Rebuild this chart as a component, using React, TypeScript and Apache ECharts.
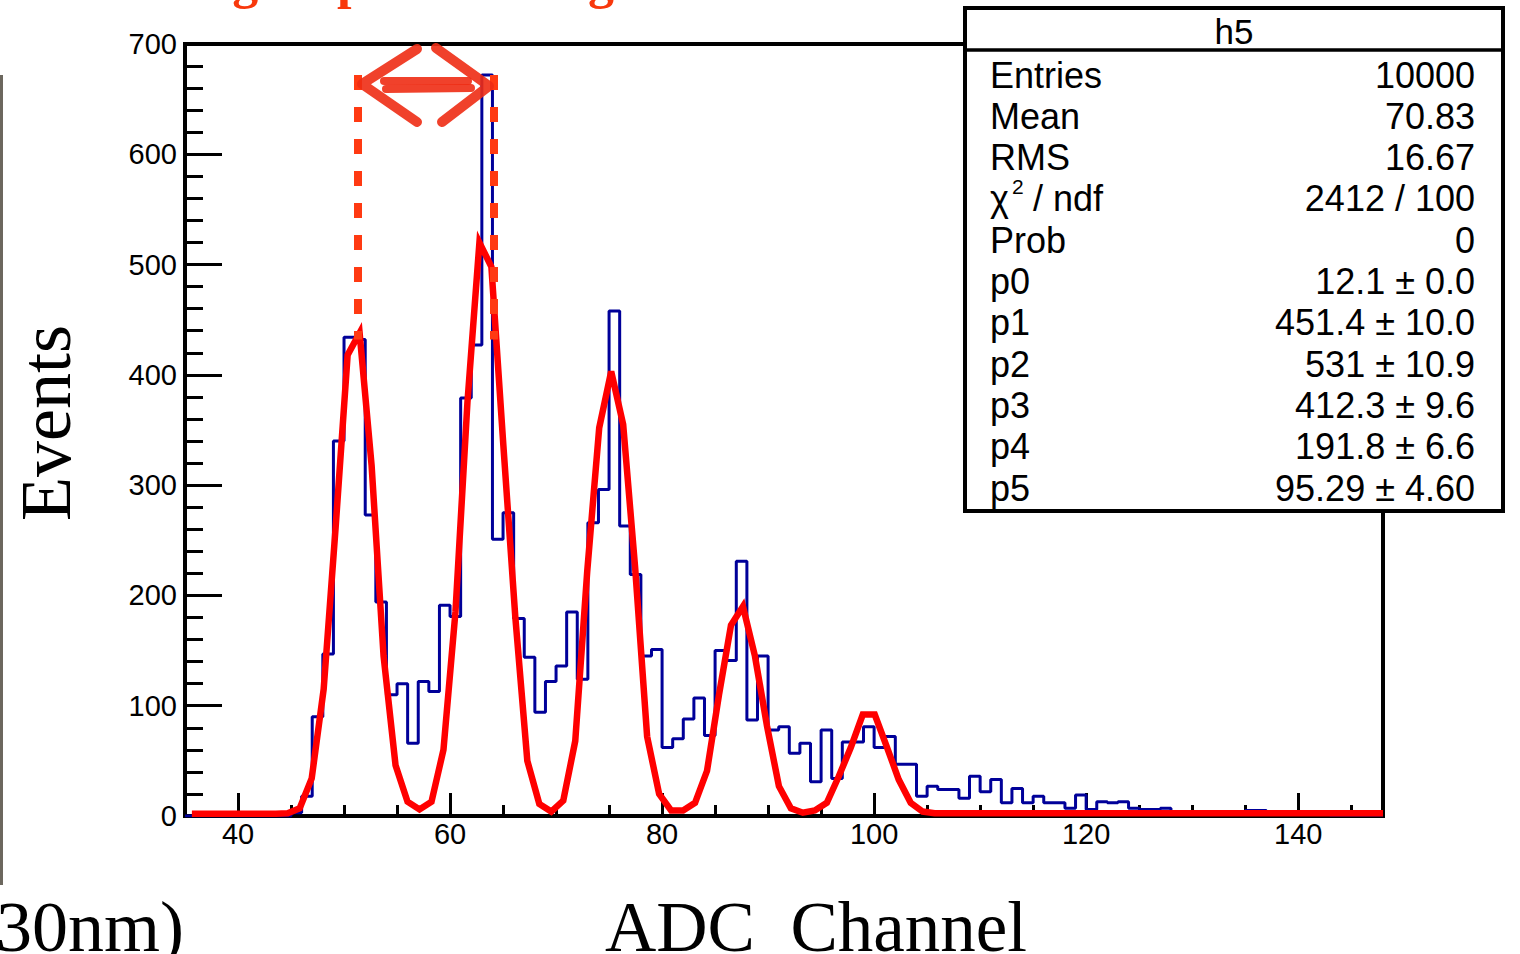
import React, { useEffect, useRef } from 'react';
import * as echarts from 'echarts';

// ---------------- data ----------------
const X_MIN = 35;
const X_MAX = 148;
const Y_MIN = 0;
const Y_MAX = 700;

const xMajorTicks = [40, 60, 80, 100, 120, 140];
const xMinorTicks = [40, 45, 50, 55, 60, 65, 70, 75, 80, 85, 90, 95, 100, 105, 110, 115, 120, 125, 130, 135, 140, 145];

// histogram h5: one-channel bins starting at channel 35
const BIN_START = 35;
const BIN_WIDTH = 1;
const binCounts = [
  0, 0, 0, 0, 0, 0, 0, 0, 0, 0,
  3, 18, 90, 147, 340, 434, 432, 273, 194, 110,
  120, 66, 122, 113, 191, 181, 379, 427, 672, 251,
  275, 179, 144, 94, 122, 136, 185, 124, 266, 296,
  458, 263, 219, 145, 151, 62, 70, 88, 107, 73,
  150, 141, 231, 87, 145, 78, 81, 57, 66, 31,
  78, 34, 67, 67, 81, 62, 72, 47, 47, 18,
  27, 24, 24, 16, 36, 22, 33, 12, 25, 12,
  18, 12, 12, 7, 19, 6, 13, 12, 13, 7,
  6, 6, 7, 4, 2, 2, 2, 4, 3, 3,
  5, 5, 4, 3, 2, 2, 2, 2, 1, 1,
  1, 1, 1,
];

// fitted function (red), points as drawn
const fitX = [
  35.65, 36.78, 37.91, 39.04, 40.17, 41.3, 42.43, 43.56, 44.69, 45.82,
  46.95, 48.08, 49.21, 50.34, 51.47, 52.6, 53.73, 54.86, 55.99, 57.12,
  58.25, 59.38, 60.51, 61.64, 62.77, 63.9, 65.03, 66.16, 67.29, 68.42,
  69.55, 70.68, 71.81, 72.94, 74.07, 75.2, 76.33, 77.46, 78.59, 79.72,
  80.85, 81.98, 83.11, 84.24, 85.37, 86.5, 87.63, 88.76, 89.89, 91.02,
  92.15, 93.28, 94.41, 95.54, 96.67, 97.8, 98.93, 100.06, 101.19, 102.32,
  103.45, 104.58, 105.71, 106.84, 148,
];
const fitY = [
  2, 2, 2, 2, 2, 2, 2, 2, 2.5, 7,
  34, 115, 262, 418, 438, 318, 145, 46, 13, 6,
  13, 60, 185, 375, 520, 498, 336, 180, 50, 11,
  4, 14, 68, 222, 352, 403, 355, 225, 72, 20,
  5, 5, 12, 41, 110, 173, 190, 145, 82, 27,
  7, 3, 5, 12, 36, 62, 92, 92, 63, 33,
  12, 4, 2.5, 2.5, 2.5,
];

// annotation: dashed markers at the first two peaks
const dashX = [51.27, 64.15];
const dashTop = 672;
const dashBottom = 432;

const statsTitle = 'h5';
const statsLabels = ['Entries', 'Mean', 'RMS', 'CHI2', 'Prob', 'p0', 'p1', 'p2', 'p3', 'p4', 'p5'];
const statsValues = ['10000', '70.83', '16.67', '2412 / 100', '0', '12.1 \u00b1 0.0', '451.4 \u00b1 10.0', '531 \u00b1 10.9', '412.3 \u00b1 9.6', '191.8 \u00b1 6.6', '95.29 \u00b1 4.60'];

const yAxisTitle = 'Events';
const xAxisTitle = 'ADC  Channel';
const cutCaption = '30nm)';
const titleFragments = ['Single', 'photon', 'gain'];

// ---------------- component ----------------
const SANS = 'Liberation Sans';
const SERIF = 'Liberation Serif';

export default function App() {
  const ref = useRef<HTMLDivElement>(null);

  useEffect(() => {
    if (!ref.current) return;
    const chart = echarts.init(ref.current, null, { renderer: 'svg' });

    const histData: number[][] = binCounts.map((v, i) => [BIN_START + i * BIN_WIDTH, v]);
    histData.push([BIN_START + binCounts.length * BIN_WIDTH, binCounts[binCounts.length - 1]]);
    const fitData = fitX.map((x, i) => [x, fitY[i]]);

    // stats box
    const boxL = 965, boxT = 8, boxW = 538, boxH = 503, sepY = 50;
    const labelX = 990, valueX = 1475;
    const rowMid0 = 75, rowStep = 41.3;
    const statsFont = 36;
    const statsEls: any[] = [
      {
        type: 'rect', z: 100,
        shape: { x: boxL, y: boxT, width: boxW, height: boxH },
        style: { fill: '#fff', stroke: '#000', lineWidth: 4 },
      },
      {
        type: 'line', z: 101,
        shape: { x1: boxL, y1: sepY, x2: boxL + boxW, y2: sepY },
        style: { stroke: '#000', lineWidth: 3.5 },
      },
      {
        type: 'text', z: 101, x: boxL + boxW / 2, y: 31,
        style: { text: statsTitle, fill: '#000', fontSize: 35, fontFamily: SANS, align: 'center', verticalAlign: 'middle' },
      },
    ];
    statsLabels.forEach((lab, i) => {
      const y = rowMid0 + i * rowStep;
      if (lab === 'CHI2') {
        statsEls.push({ type: 'text', z: 101, x: labelX, y, style: { text: '\u03c7', fill: '#000', fontSize: statsFont, fontFamily: SANS, align: 'left', verticalAlign: 'middle' } });
        statsEls.push({ type: 'text', z: 101, x: labelX + 22, y: y - 12, style: { text: '2', fill: '#000', fontSize: 21, fontFamily: SANS, align: 'left', verticalAlign: 'middle' } });
        statsEls.push({ type: 'text', z: 101, x: labelX + 43, y, style: { text: '/ ndf', fill: '#000', fontSize: statsFont, fontFamily: SANS, align: 'left', verticalAlign: 'middle' } });
      } else {
        statsEls.push({ type: 'text', z: 101, x: labelX, y, style: { text: lab, fill: '#000', fontSize: statsFont, fontFamily: SANS, align: 'left', verticalAlign: 'middle' } });
      }
      statsEls.push({ type: 'text', z: 101, x: valueX, y, style: { text: statsValues[i], fill: '#000', fontSize: statsFont, fontFamily: SANS, align: 'right', verticalAlign: 'middle' } });
    });

    const arrowColor = '#ee2c14';
    const arrowEls: any[] = [
      { type: 'polyline', z: 90, shape: { points: [[417, 49], [362, 84], [417, 122]] }, style: { stroke: arrowColor, lineWidth: 10, fill: null, lineCap: 'round', lineJoin: 'round', opacity: 0.9 } },
      { type: 'polyline', z: 90, shape: { points: [[436, 48], [489, 86], [442, 122]] }, style: { stroke: arrowColor, lineWidth: 10, fill: null, lineCap: 'round', lineJoin: 'round', opacity: 0.9 } },
      { type: 'line', z: 90, shape: { x1: 384, y1: 81, x2: 468, y2: 81 }, style: { stroke: arrowColor, lineWidth: 8, lineCap: 'round', opacity: 0.9 } },
      { type: 'line', z: 90, shape: { x1: 386, y1: 89, x2: 471, y2: 88 }, style: { stroke: arrowColor, lineWidth: 8, lineCap: 'round', opacity: 0.9 } },
    ];

    const titleColor = '#f8380c';
    const titleEls: any[] = [
      { type: 'text', z: 80, x: 160, y: -19.5, style: { text: titleFragments[0], fill: titleColor, fontSize: 52, fontWeight: 'bold', fontFamily: SERIF, align: 'left', verticalAlign: 'middle' } },
      { type: 'text', z: 80, x: 337, y: -19.5, style: { text: titleFragments[1], fill: titleColor, fontSize: 52, fontWeight: 'bold', fontFamily: SERIF, align: 'left', verticalAlign: 'middle' } },
      { type: 'text', z: 80, x: 588, y: -19.5, style: { text: titleFragments[2], fill: titleColor, fontSize: 52, fontWeight: 'bold', fontFamily: SERIF, align: 'left', verticalAlign: 'middle' } },
    ];

    const pageEls: any[] = [
      { type: 'rect', z: 80, shape: { x: 0, y: 75, width: 3, height: 810 }, style: { fill: '#6c675e' } },
      {
        type: 'text', z: 80, x: 45.5, y: 423, rotation: Math.PI / 2,
        style: { text: yAxisTitle, fill: '#000', fontSize: 72, fontFamily: SERIF, align: 'center', verticalAlign: 'middle' },
      },
      {
        type: 'text', z: 80, x: 816, y: 926.5,
        style: { text: xAxisTitle, fill: '#000', fontSize: 71, fontFamily: SERIF, align: 'center', verticalAlign: 'middle' },
      },
      {
        type: 'text', z: 80, x: -4, y: 927,
        style: { text: cutCaption, fill: '#000', fontSize: 72, fontFamily: SERIF, align: 'left', verticalAlign: 'middle' },
      },
    ];

    const option: any = {
      animation: false,
      backgroundColor: '#fff',
      grid: {
        left: 185, top: 44, width: 1198, height: 772,
        show: true, borderColor: '#000', borderWidth: 4, backgroundColor: 'transparent',
      },
      xAxis: [
        {
          type: 'value', min: X_MIN, max: X_MAX, position: 'bottom',
          axisLine: { show: true, onZero: false, lineStyle: { color: '#000', width: 4 } },
          axisTick: { show: true, inside: true, length: 23, lineStyle: { color: '#000', width: 3 }, customValues: xMajorTicks },
          axisLabel: { show: true, customValues: xMajorTicks, margin: 3, color: '#000', fontSize: 29, fontFamily: SANS },
          splitLine: { show: false },
        },
        {
          type: 'value', min: X_MIN, max: X_MAX, position: 'bottom',
          axisLine: { show: false },
          axisTick: { show: true, inside: true, length: 11, lineStyle: { color: '#000', width: 3 }, customValues: xMinorTicks },
          axisLabel: { show: false },
          splitLine: { show: false },
        },
      ],
      yAxis: {
        type: 'value', min: Y_MIN, max: Y_MAX, interval: 100,
        axisLine: { show: true, lineStyle: { color: '#000', width: 4 } },
        axisTick: { show: true, inside: true, length: 37, lineStyle: { color: '#000', width: 3 } },
        minorTick: { show: true, splitNumber: 5, length: 18, lineStyle: { color: '#000', width: 3 } },
        axisLabel: { margin: 8, color: '#000', fontSize: 29, fontFamily: SANS },
        splitLine: { show: false },
        minorSplitLine: { show: false },
      },
      series: [
        {
          name: 'h5', type: 'line', xAxisIndex: 0, data: histData, step: 'end',
          symbol: 'none', lineStyle: { color: '#000099', width: 3 }, z: 2,
        },
        {
          name: 'fit', type: 'line', xAxisIndex: 0, data: fitData,
          symbol: 'none', lineStyle: { color: '#ff0000', width: 6.5, join: 'miter', miterLimit: 10 }, z: 3,
          markLine: {
            silent: true, symbol: ['none', 'none'], label: { show: false }, z: 10,
            lineStyle: { color: '#ff3a12', width: 8, type: [15, 17], cap: 'butt' },
            data: dashX.map((x) => [{ coord: [x, dashTop] }, { coord: [x, dashBottom] }]),
          },
        },
      ],
      graphic: [...pageEls, ...titleEls, ...arrowEls, ...statsEls],
    };

    chart.setOption(option);
    return () => chart.dispose();
  }, []);

  return (
    <div
      ref={ref}
      style={{ position: 'fixed', left: 0, top: 0, width: 1520, height: 954, background: '#fff' }}
    />
  );
}
